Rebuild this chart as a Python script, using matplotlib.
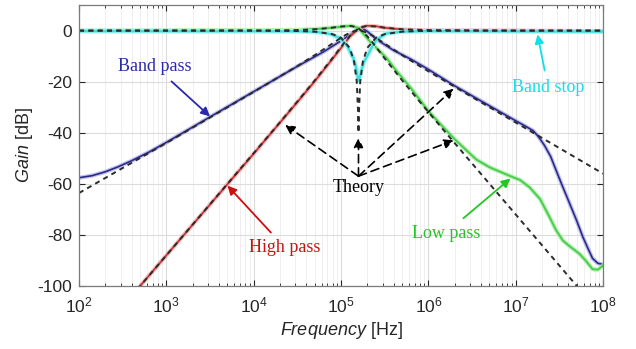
import numpy as np
import matplotlib
matplotlib.use('Agg')
import matplotlib.pyplot as plt

bp_meas_logf = [2.0, 2.15, 2.3, 2.45, 2.6, 2.8, 3.0, 3.5, 4.0, 4.5, 4.8, 5.0, 5.1, 5.2, 5.25,
                5.3, 5.41, 5.6, 5.8, 6.0, 6.3, 6.6, 7.0, 7.1, 7.2, 7.26, 7.33, 7.4, 7.46, 7.54,
                7.62, 7.7, 7.77, 7.83, 7.88, 7.94, 8.0]
bp_meas_db = [-57.6, -56.8, -55.3, -53.3, -51.0, -47.6, -43.8, -33.8, -23.9, -14.0, -8.3, -4.0,
              -1.7, 0.6, 0.8, -0.3, -3.5, -7.7, -11.2, -15.2, -21.6, -27.5, -35.3, -37.2, -39.2,
              -41.5, -45.0, -49.3, -54.5, -61.3, -67.9, -74.6, -80.9, -85.5, -89.2, -91.1, -91.6]

bp_th_logf = [2.0, 3.0, 4.0, 4.5, 4.7, 4.9, 5.0, 5.05, 5.1, 5.15, 5.2, 5.25, 5.3, 5.35, 5.4,
              5.5, 5.7, 5.9, 6.4, 8.0]
bp_th_db = [-63.6, -44.0, -24.0, -13.9, -9.6, -5.1, -2.8, -1.75, -0.9, -0.23, 0.0, -0.23, -0.9,
            -1.75, -2.8, -5.1, -9.6, -13.9, -24.0, -56.0]

hp_meas_logf = [2.6, 3.0, 4.0, 4.5, 4.7, 4.9, 5.0, 5.1, 5.2, 5.3, 5.4, 5.5, 5.7, 6.0, 7.0, 8.0]
hp_meas_db = [-104.0, -88.0, -48.2, -28.0, -19.8, -11.2, -6.8, -2.4, 0.8, 1.9, 1.7, 1.1, 0.4,
              0.1, 0.0, -0.2]

hp_th_logf = [2.6, 3.0, 4.0, 4.2, 4.5, 4.7, 4.9, 5.0, 5.05, 5.1, 5.15, 5.2, 5.25, 5.3, 5.4,
              5.5, 5.7, 6.0, 6.7, 8.0]
hp_th_db = [-104.0, -88.0, -48.0, -40.0, -27.8, -19.5, -10.9, -6.4, -4.2, -2.2, -0.45, 0.83,
            1.56, 1.82, 1.6, 1.15, 0.5, 0.2, 0.02, 0.0]

lp_meas_logf = [2.0, 4.5, 4.8, 5.0, 5.12, 5.2, 5.33, 5.52, 5.64, 5.8, 6.0, 6.17, 6.3, 6.44,
                6.55, 6.7, 6.94, 7.05, 7.16, 7.28, 7.39, 7.46, 7.54, 7.62, 7.73, 7.8, 7.88,
                7.94, 8.0]
lp_meas_db = [0.0, 0.2, 0.8, 1.5, 1.9, 1.0, -4.2, -10.7, -16.0, -22.5, -31.5, -37.8, -42.5,
              -47.0, -50.5, -53.5, -57.0, -58.5, -61.4, -66.0, -73.2, -78.0, -82.2, -84.5,
              -87.4, -90.0, -93.4, -93.6, -92.0]

lp_th_logf = [2.0, 4.2, 4.5, 4.7, 4.9, 5.0, 5.1, 5.15, 5.2, 5.25, 5.3, 5.35, 5.4, 5.5, 5.7,
              5.9, 6.2, 7.2, 7.75]
lp_th_db = [0.0, 0.05, 0.2, 0.49, 1.15, 1.6, 1.82, 1.56, 0.83, -0.45, -2.2, -4.2, -6.4, -10.9,
            -19.5, -27.8, -40.0, -80.0, -102.0]

bs_meas_logf = [2.0, 4.6, 4.8, 4.9, 5.0, 5.07, 5.14, 5.17, 5.19, 5.2, 5.21, 5.23, 5.26, 5.31,
                5.36, 5.41, 5.52, 5.7, 6.0, 8.0]
bs_meas_db = [-0.2, -0.3, -0.8, -1.6, -3.2, -6.0, -10.7, -14.0, -18.0, -19.6, -19.0, -16.0,
              -12.5, -9.4, -6.0, -3.5, -1.1, -0.4, -0.2, -0.4]

bs_th_logf = [2.0, 4.0, 4.5, 4.7, 4.9, 5.0, 5.1, 5.15, 5.18, 5.195, 5.2, 5.205, 5.22, 5.25,
              5.3, 5.4, 5.5, 5.7, 5.9, 6.4, 8.0]
bs_th_db = [0.0, -0.01, -0.16, -0.42, -1.37, -2.8, -6.8, -12.2, -19.9, -31.9, -40.0, -31.9,
            -19.9, -12.2, -6.8, -2.8, -1.37, -0.42, -0.16, 0.0, 0.0]

y_ticks = [-100, -80, -60, -40, -20, 0]
y_ticklabels = ['-100', '-80', '-60', '-40', '-20', '0']
x_ticks = [1e2, 1e3, 1e4, 1e5, 1e6, 1e7, 1e8]
x_ticklabels = [r'$10^{2}$', r'$10^{3}$', r'$10^{4}$', r'$10^{5}$', r'$10^{6}$', r'$10^{7}$',
                r'$10^{8}$']

plt.rcParams['font.family'] = 'Liberation Sans'
plt.rcParams['mathtext.fontset'] = 'custom'
plt.rcParams['mathtext.rm'] = 'Liberation Sans'
plt.rcParams['mathtext.it'] = 'Liberation Sans:italic'

fig = plt.figure(figsize=(6.36, 3.49), dpi=100)
ax = fig.add_axes([0.1242, 0.1805, 0.824, 0.805])

def hz(logf):
    return 10 ** np.array(logf)

# measured responses: light halo + core line
ax.plot(hz(bp_meas_logf), bp_meas_db, color='#9a9ae0', lw=3.0, alpha=0.6)
ax.plot(hz(bp_meas_logf), bp_meas_db, color='#2a2a8a', lw=1.2)
ax.plot(hz(hp_meas_logf), hp_meas_db, color='#f0a0a0', lw=3.0, alpha=0.7)
ax.plot(hz(hp_meas_logf), hp_meas_db, color='#c03030', lw=1.2)
ax.plot(hz(lp_meas_logf), lp_meas_db, color='#a8f0a8', lw=3.2, alpha=0.8)
ax.plot(hz(lp_meas_logf), lp_meas_db, color='#4ccc4c', lw=1.4)
ax.plot(hz(bs_meas_logf), bs_meas_db, color='#a0f4f4', lw=3.4, alpha=0.9)
ax.plot(hz(bs_meas_logf), bs_meas_db, color='#40dcdc', lw=1.6)

# theory
th_kw = dict(color='#2b2b2b', lw=1.4, dashes=(2.6, 2.2))
for lf, db in [(bs_th_logf, bs_th_db), (lp_th_logf, lp_th_db),
               (hp_th_logf, hp_th_db), (bp_th_logf, bp_th_db)]:
    ax.plot(hz(lf), db, **th_kw)

ax.set_xscale('log')
ax.set_xlim(1e2, 1e8)
ax.set_ylim(-100, 10)
ax.set_yticks(y_ticks)
ax.set_yticklabels(y_ticklabels)
ax.set_xticks(x_ticks)
ax.set_xticklabels(x_ticklabels)

ax.grid(True, which='major', color='#dcdcdc', lw=0.8)
ax.grid(True, which='minor', axis='x', color='#ececec', lw=0.6)
ax.set_axisbelow(True)
ax.tick_params(which='both', direction='in', top=True, right=True, colors='#262626',
               labelsize=12.5)
ax.tick_params(which='major', length=4, pad=5)
ax.tick_params(which='minor', length=2.5)
ax.tick_params(axis='x', which='major', pad=7)
for s in ax.spines.values():
    s.set_color('#7a7a7a')
    s.set_linewidth(0.9)

ax.set_xlabel(r'$\it{Frequency}$ [Hz]', fontsize=13, color='#262626', labelpad=3)
ax.set_ylabel(r'$\it{Gain}$ [dB]', fontsize=13, color='#262626', labelpad=2)

# annotations
serif = 'Liberation Serif'

def label(text, xy, xytext, color):
    ax.annotate(text, xy=xy, xytext=xytext, color=color, fontsize=13, family=serif,
                ha='center', va='center',
                arrowprops=dict(arrowstyle='-|>', color=color, lw=1.3, mutation_scale=13,
                                shrinkA=4, shrinkB=0))

label('Band pass', (10 ** 3.5, -33.6), (10 ** 2.87, -14.0), '#2a2aa8')
label('High pass', (10 ** 3.7, -60.7), (10 ** 4.36, -85.1), '#cc1010')
label('Low pass', (10 ** 6.94, -57.9), (10 ** 6.2, -79.3), '#22c822')
label('Band stop', (10 ** 7.25, -1.5), (10 ** 7.37, -22.2), '#10e0e8')

ax.text(10 ** 5.2, -61.6, 'Theory', fontsize=13, family=serif, ha='center', va='center')
theory_targets = [(4.36, -36.9), (5.2, -42.0), (6.29, -22.7), (6.29, -43.0)]
for lf, g in theory_targets:
    ax.annotate('', xy=(10 ** lf, g), xytext=(10 ** 5.2, -57.0),
                arrowprops=dict(arrowstyle='-|>', color='k', lw=1.2, linestyle=(0, (5, 3)),
                                mutation_scale=14, shrinkA=0, shrinkB=0))

fig.savefig('out.png', dpi=100)
